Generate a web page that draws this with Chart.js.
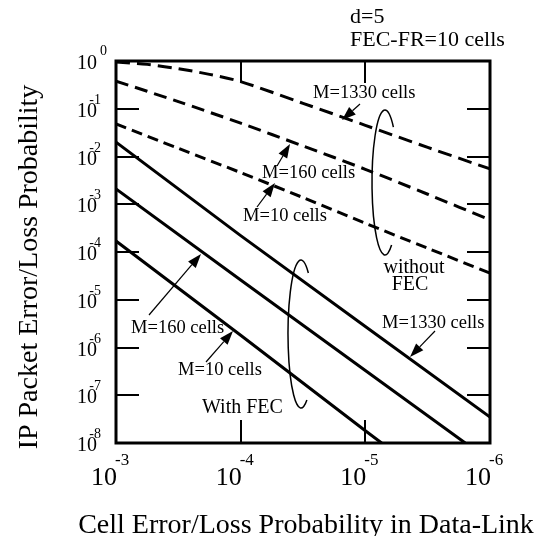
<!DOCTYPE html>
<html><head><meta charset="utf-8">
<script src="https://cdn.jsdelivr.net/npm/chart.js@4.4.1/dist/chart.umd.min.js"></script>
<style>html,body{margin:0;padding:0;background:#fff;}canvas{display:block;}</style>
</head><body>
<canvas id="c" width="554" height="536"></canvas>
<script>
// Cell error/loss probability (x) values per series
const xNoFecM1330 = [1e-3, 5.62e-4, 3.16e-4, 1.78e-4, 1e-4, 3.16e-5, 1e-5, 3.16e-6, 1e-6];
const noFecM1330  = [0.955, 0.85, 0.69, 0.525, 0.37, 0.13, 0.045, 0.0155, 0.0055];
const xNoFec      = [1e-3, 3.16e-4, 1e-4, 3.16e-5, 1e-5, 3.16e-6, 1e-6];
const noFecM160   = [0.38, 0.141, 0.050, 0.0166, 0.0054, 0.00162, 0.00047];
const noFecM10    = [0.048, 0.0148, 0.0046, 0.00138, 0.0004, 0.00012, 3.6e-5];
const xFecM1330   = [1e-3, 1e-4, 1e-5, 1e-6];
const fecM1330    = [0.02, 2.2e-4, 2.75e-6, 3.5e-8];
const xFecM160    = [1e-3, 1e-4, 1e-5, 1.58e-6];
const fecM160     = [2.1e-3, 2.6e-5, 3.3e-7, 1e-8];
const xFecM10     = [1e-3, 1e-4, 1e-5, 7.4e-6];
const fecM10      = [1.7e-4, 1.8e-6, 1.8e-8, 1e-8];

const xTickExps = [-3, -4, -5, -6];
const yTickExps = [0, -1, -2, -3, -4, -5, -6, -7, -8];
const xInnerTickExps = [-4, -5];

const xTitle = 'Cell Error/Loss Probability in Data-Link';
const yTitle = 'IP Packet Error/Loss Probability';
const headerLines = ['d=5', 'FEC-FR=10 cells'];

const FONT = "'Liberation Serif','Times New Roman',serif";
const pts = (xs, ys) => xs.map((x, i) => ({x: x, y: ys[i]}));

function ds(label, xs, ys, dashed) {
  return {
    label: label,
    data: pts(xs, ys),
    borderColor: '#000',
    borderWidth: 3,
    borderDash: dashed || [],
    pointRadius: 0,
    fill: false,
    tension: dashed ? 0.3 : 0
  };
}

const labels = [
  {t: 'M=1330 cells', x: 313, y: 98,  s: 18.5},
  {t: 'M=160 cells',  x: 262, y: 178, s: 18.5},
  {t: 'M=10 cells',   x: 243, y: 221, s: 18.5},
  {t: 'M=160 cells',  x: 131, y: 333, s: 18.5},
  {t: 'M=10 cells',   x: 178, y: 375, s: 18.5},
  {t: 'With FEC',     x: 202, y: 413, s: 20},
  {t: 'M=1330 cells', x: 382, y: 328, s: 18.5},
  {t: 'without',      x: 414, y: 273, s: 20, c: true},
  {t: 'FEC',          x: 410, y: 290, s: 20, c: true}
];
const arrows = [
  [360, 104, 342, 120],
  [277, 166, 290, 144],
  [257, 207, 275, 183],
  [149, 315, 201, 254],
  [206, 362, 233, 331],
  [435, 331, 410, 357]
];
const ellipses = [
  {cx: 385, cy: 182.5, rx: 13, ry: 72.5, a0: -0.87, a1: 1.04},
  {cx: 301, cy: 334, rx: 13, ry: 74, a0: -0.97, a1: 1.1}
];

const deco = {
  id: 'deco',
  afterDraw(chart) {
    const ctx = chart.ctx, a = chart.chartArea, xs = chart.scales.x, ys = chart.scales.y;
    ctx.save();
    ctx.setLineDash([]);
    ctx.strokeStyle = '#000'; ctx.fillStyle = '#000';
    const line = (x1, y1, x2, y2) => { ctx.beginPath(); ctx.moveTo(x1, y1); ctx.lineTo(x2, y2); ctx.stroke(); };
    // inner tick marks
    ctx.lineWidth = 2;
    yTickExps.forEach(e => {
      if (e === 0 || e === -8) return;
      const y = Math.round(ys.getPixelForValue(Math.pow(10, e)));
      line(a.left, y, a.left + 23, y);
      line(a.right, y, a.right - 23, y);
    });
    xInnerTickExps.forEach(e => {
      const x = Math.round(xs.getPixelForValue(Math.pow(10, e)));
      line(x, a.bottom, x, a.bottom - 23);
      line(x, a.top, x, a.top + 22);
    });
    // frame
    ctx.lineWidth = 3;
    ctx.strokeRect(a.left, a.top, a.right - a.left, a.bottom - a.top);
    // y tick labels
    ctx.textBaseline = 'alphabetic';
    yTickExps.forEach(e => {
      const y = ys.getPixelForValue(Math.pow(10, e));
      ctx.font = '20px ' + FONT; ctx.textAlign = 'right';
      ctx.fillText('10', 97, y + 8);
      ctx.font = '14px ' + FONT;
      if (e === 0) { ctx.textAlign = 'left'; ctx.fillText('0', 100, y - 6); }
      else { ctx.textAlign = 'right'; ctx.fillText(String(e), 101, y - 5); }
    });
    // x tick labels
    xTickExps.forEach(e => {
      const x = xs.getPixelForValue(Math.pow(10, e));
      ctx.font = '26px ' + FONT; ctx.textAlign = 'right';
      ctx.fillText('10', x + 1, 485);
      ctx.font = '17px ' + FONT; ctx.textAlign = 'left';
      ctx.fillText(String(e), x - 1, 465);
    });
    // axis titles
    ctx.font = '28px ' + FONT; ctx.textAlign = 'center';
    ctx.fillText(xTitle, 306, 533);
    ctx.save();
    ctx.translate(37, 267); ctx.rotate(-Math.PI / 2);
    ctx.fillText(yTitle, 0, 0);
    ctx.restore();
    // header
    ctx.font = '22px ' + FONT; ctx.textAlign = 'left';
    ctx.fillText(headerLines[0], 350, 23);
    ctx.fillText(headerLines[1], 350, 46);
    // labels
    labels.forEach(l => {
      ctx.font = l.s + 'px ' + FONT;
      ctx.textAlign = l.c ? 'center' : 'left';
      ctx.fillText(l.t, l.x, l.y);
    });
    // arrows
    ctx.lineWidth = 1.2;
    arrows.forEach(([x1, y1, x2, y2]) => {
      const ang = Math.atan2(y2 - y1, x2 - x1), L = 14, W = 5;
      const bx = x2 - L * Math.cos(ang), by = y2 - L * Math.sin(ang);
      line(x1, y1, bx, by);
      ctx.beginPath();
      ctx.moveTo(x2, y2);
      ctx.lineTo(bx + W * Math.sin(ang), by - W * Math.cos(ang));
      ctx.lineTo(bx - W * Math.sin(ang), by + W * Math.cos(ang));
      ctx.closePath(); ctx.fill();
    });
    // ellipses
    ctx.lineWidth = 1.5;
    ellipses.forEach(e => {
      ctx.beginPath();
      ctx.ellipse(e.cx, e.cy, e.rx, e.ry, 0, e.a0, e.a1, true);
      ctx.stroke();
    });
    ctx.restore();
  }
};

new Chart(document.getElementById('c'), {
  type: 'line',
  data: {
    datasets: [
      ds('Without FEC, M=1330 cells', xNoFecM1330, noFecM1330, [14, 7]),
      ds('Without FEC, M=160 cells', xNoFec, noFecM160, [13, 7]),
      ds('Without FEC, M=10 cells', xNoFec, noFecM10, [11, 6]),
      ds('With FEC, M=1330 cells', xFecM1330, fecM1330),
      ds('With FEC, M=160 cells', xFecM160, fecM160),
      ds('With FEC, M=10 cells', xFecM10, fecM10)
    ]
  },
  options: {
    responsive: false,
    animation: false,
    events: [],
    layout: {padding: {left: 116, top: 61, right: 64, bottom: 93}},
    plugins: {legend: {display: false}, tooltip: {enabled: false}},
    scales: {
      x: {type: 'logarithmic', reverse: true, min: 1e-6, max: 1e-3, display: false},
      y: {type: 'logarithmic', min: 1e-8, max: 1, display: false}
    }
  },
  plugins: [deco]
});
</script>
</body></html>
